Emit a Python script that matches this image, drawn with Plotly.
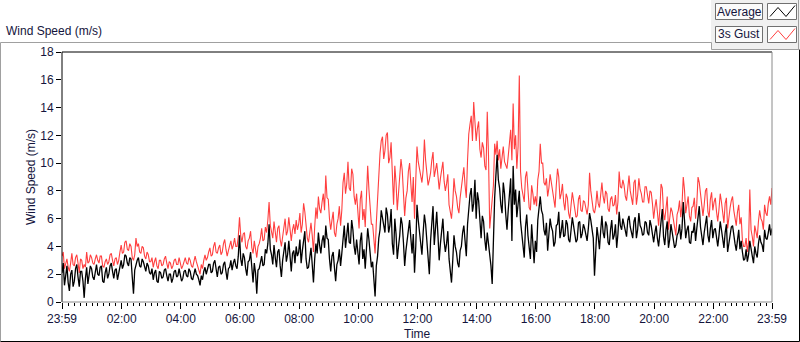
import plotly.graph_objects as go

# ---------------- data (2.5-minute samples, 23:59 -> 23:59), one row per hour ----------------
average = [
    2.1, 2.8, 1.2, 1.9, 2.6, 1.4, 0.8, 2.0, 2.3, 1.1, 1.5, 2.4, 2.7, 1.8, 1.1, 2.2, 2.2, 1.5, 0.3, 1.7, 2.5, 1.3, 1.9, 2.6,
    2.4, 1.8, 1.6, 2.2, 2.7, 2.0, 1.9, 2.5, 2.6, 1.5, 1.4, 2.1, 2.5, 1.7, 2.0, 2.6, 2.8, 2.2, 1.7, 2.3, 2.4, 1.6, 2.1, 2.7,
    3.0, 2.4, 2.7, 3.4, 3.3, 2.8, 2.6, 3.2, 3.1, 1.8, 0.6, 2.3, 2.8, 3.0, 3.2, 2.6, 2.5, 3.1, 2.9, 2.4, 2.2, 2.8, 2.6, 2.1,
    2.0, 2.4, 1.6, 2.1, 2.3, 1.5, 1.4, 2.2, 2.1, 1.7, 1.8, 2.3, 2.4, 1.9, 1.5, 2.0, 2.0, 1.4, 1.7, 2.2, 2.3, 1.8, 1.9, 2.4,
    2.0, 1.5, 1.7, 2.2, 2.3, 1.9, 1.8, 2.4, 2.2, 1.7, 1.6, 2.1, 2.4, 2.0, 1.9, 1.6, 1.2, 1.9, 1.6, 2.2, 2.5, 2.0, 2.3, 2.7,
    2.7, 2.1, 2.2, 2.8, 3.0, 2.4, 1.8, 2.5, 2.6, 2.0, 2.1, 2.7, 2.9, 2.2, 1.6, 2.4, 2.5, 3.0, 2.3, 2.8, 3.1, 2.6, 2.4, 3.3,
    4.8, 3.1, 2.6, 3.5, 3.2, 2.4, 1.9, 2.9, 3.0, 3.6, 2.2, 1.4, 2.8, 2.1, 0.6, 2.3, 2.4, 3.0, 3.3, 2.6, 2.7, 3.8, 3.5, 4.2,
    5.6, 3.8, 3.4, 2.7, 4.1, 3.2, 2.5, 3.6, 3.8, 2.6, 1.8, 3.0, 3.5, 4.3, 2.9, 3.4, 4.4, 3.1, 2.2, 3.5, 3.7, 2.8, 4.0, 3.3,
    3.6, 4.5, 2.8, 3.7, 4.3, 5.1, 3.1, 2.4, 2.5, 3.4, 3.9, 2.7, 1.4, 3.1, 4.2, 3.5, 5.0, 4.1, 3.5, 4.4, 4.8, 3.9, 5.5, 4.6,
    4.5, 3.1, 2.2, 3.3, 3.6, 2.5, 1.5, 2.7, 3.0, 3.8, 2.6, 3.5, 4.8, 5.5, 3.9, 4.6, 5.7, 4.3, 4.2, 5.9, 5.2, 4.0, 3.4, 4.5,
    3.8, 2.7, 4.4, 5.0, 3.1, 3.8, 2.4, 4.1, 5.3, 4.5, 3.6, 2.5, 2.9, 1.9, 0.4, 2.6, 3.3, 4.6, 5.2, 6.6, 6.1, 5.4, 5.0, 6.8,
    6.3, 5.0, 5.5, 6.7, 4.2, 3.4, 6.0, 4.9, 3.1, 4.0, 4.8, 6.1, 5.6, 4.3, 2.6, 3.7, 4.4, 5.3, 5.9, 4.6, 3.5, 4.9, 2.1, 4.0,
    7.0, 5.9, 5.2, 4.1, 3.4, 5.0, 6.3, 5.6, 4.6, 3.1, 2.0, 4.4, 5.8, 6.9, 4.1, 5.3, 6.5, 4.8, 3.0, 4.2, 5.0, 6.0, 4.4, 3.6,
    4.2, 5.1, 3.1, 2.2, 1.4, 3.0, 4.8, 4.0, 3.6, 2.8, 2.5, 3.7, 4.0, 5.0, 5.5, 4.4, 3.3, 5.6, 6.8, 7.7, 8.2, 6.5, 7.1, 8.8,
    6.0, 7.9, 7.3, 5.5, 4.6, 6.2, 5.8, 4.5, 3.7, 5.0, 4.2, 3.4, 2.6, 1.3, 4.8, 7.5, 9.1, 10.6, 8.8, 8.2, 7.0, 6.4, 8.6, 7.8,
    6.3, 5.2, 6.6, 7.6, 8.9, 4.4, 9.8, 7.0, 8.1, 6.1, 7.4, 8.0, 5.8, 5.0, 4.1, 3.2, 5.4, 6.3, 4.8, 4.0, 3.1, 5.6, 4.5, 2.8,
    4.4, 3.6, 5.9, 6.8, 7.6, 6.6, 6.3, 5.2, 4.8, 5.7, 3.7, 4.9, 6.0, 5.4, 5.1, 4.0, 4.3, 5.5, 5.6, 6.5, 4.6, 5.1, 5.9, 4.7,
    4.8, 5.9, 5.6, 4.5, 4.3, 5.2, 6.1, 5.5, 5.0, 4.3, 4.5, 5.7, 5.8, 4.6, 4.9, 5.6, 5.3, 4.7, 4.4, 5.3, 6.4, 5.9, 5.2, 4.6,
    1.9, 4.4, 5.4, 4.7, 3.8, 5.1, 6.2, 5.0, 4.6, 5.8, 5.5, 4.3, 4.1, 5.2, 5.9, 4.5, 4.8, 5.6, 3.9, 4.9, 6.5, 5.5, 5.2, 6.0,
    5.6, 5.1, 4.7, 5.9, 6.2, 5.4, 5.0, 4.6, 5.8, 6.1, 4.6, 5.2, 6.4, 5.5, 5.3, 4.8, 4.9, 5.8, 5.7, 5.0, 4.8, 5.9, 5.5, 4.9,
    4.3, 5.0, 5.5, 4.6, 4.0, 4.9, 6.0, 6.7, 4.7, 4.1, 5.2, 5.8, 3.9, 4.5, 5.6, 5.0, 4.4, 3.9, 4.1, 4.8, 5.0, 5.6, 4.5, 5.3,
    7.2, 6.1, 4.6, 5.2, 5.5, 4.3, 4.2, 5.1, 5.0, 5.7, 4.4, 5.3, 6.0, 6.9, 5.4, 4.6, 4.1, 5.0, 5.6, 6.2, 4.8, 4.3, 5.3, 5.9,
    4.6, 5.2, 5.3, 4.5, 4.0, 4.8, 5.8, 5.2, 4.4, 3.9, 5.0, 5.6, 3.6, 4.3, 4.9, 5.4, 5.5, 4.7, 4.2, 3.7, 4.7, 5.2, 3.8, 4.4,
    3.6, 3.0, 3.1, 3.8, 2.9, 3.4, 4.4, 3.7, 3.3, 2.8, 4.0, 3.5, 3.2, 4.2, 4.8, 4.3, 4.1, 3.6, 5.2, 4.6, 4.5, 5.0, 5.6, 4.8,
    5.3,
]
gust_3s = [
    3.3, 3.6, 2.4, 2.9, 3.1, 2.5, 2.2, 2.8, 3.5, 2.7, 2.6, 3.2, 3.4, 2.8, 2.1, 3.1, 3.0, 2.4, 2.7, 2.5, 3.6, 2.8, 2.9, 3.4,
    3.2, 2.8, 2.7, 3.1, 3.4, 3.0, 2.8, 3.3, 3.3, 2.6, 2.5, 2.9, 3.1, 2.7, 2.9, 3.4, 3.5, 3.0, 2.6, 3.1, 3.2, 2.7, 3.0, 3.6,
    4.1, 3.5, 3.6, 4.3, 4.4, 3.8, 3.7, 4.2, 4.0, 3.2, 3.0, 3.4, 4.6, 4.0, 4.2, 3.6, 3.5, 4.0, 3.9, 3.3, 3.1, 3.6, 3.4, 2.9,
    2.9, 3.2, 2.5, 2.9, 3.2, 2.6, 2.4, 3.0, 3.0, 2.6, 2.7, 3.1, 3.3, 2.8, 2.4, 2.9, 2.8, 2.4, 2.6, 3.0, 3.1, 2.7, 2.7, 3.2,
    2.8, 2.4, 2.6, 3.0, 3.2, 2.8, 2.7, 3.2, 3.0, 2.6, 2.5, 2.9, 3.3, 2.9, 2.6, 2.4, 2.0, 2.7, 2.4, 3.0, 3.4, 3.0, 3.2, 3.6,
    3.9, 3.3, 3.4, 4.0, 4.3, 3.6, 3.5, 3.9, 4.1, 3.4, 3.6, 4.2, 4.5, 3.8, 3.3, 3.7, 4.2, 4.4, 3.8, 4.1, 4.6, 4.0, 4.0, 4.7,
    6.1, 4.8, 4.3, 4.9, 5.0, 4.0, 3.8, 4.4, 4.6, 5.1, 3.9, 3.5, 4.4, 3.9, 3.2, 4.0, 4.2, 4.6, 5.3, 4.4, 4.5, 5.4, 5.0, 5.9,
    7.2, 5.5, 5.1, 4.6, 5.8, 5.0, 4.3, 5.3, 5.5, 4.5, 4.0, 4.7, 5.2, 6.0, 4.8, 5.1, 6.1, 5.0, 4.4, 5.2, 5.6, 4.9, 5.9, 5.2,
    5.6, 6.4, 5.0, 5.6, 7.1, 6.5, 5.4, 4.6, 4.3, 5.3, 5.7, 4.8, 3.6, 5.4, 6.8, 6.0, 7.6, 6.7, 6.4, 7.2, 7.8, 6.6, 9.1, 7.5,
    7.4, 6.0, 5.2, 5.9, 6.5, 5.0, 4.7, 5.6, 6.0, 6.9, 5.5, 6.6, 8.6, 9.3, 7.8, 8.5, 10.1, 8.2, 8.0, 9.6, 9.2, 7.6, 7.0, 7.8,
    6.2, 5.3, 7.4, 8.0, 5.9, 6.7, 5.4, 7.2, 9.8, 8.1, 7.0, 5.6, 5.6, 4.4, 3.5, 5.7, 7.8, 9.4, 10.7, 11.6, 11.9, 10.3, 10.9, 12.0,
    12.2, 10.0, 10.4, 11.5, 8.3, 7.0, 9.8, 8.6, 6.6, 7.8, 8.9, 10.3, 9.5, 8.0, 6.2, 7.5, 8.0, 9.4, 10.0, 8.5, 7.2, 9.0, 6.0, 8.8,
    11.2, 10.1, 9.6, 8.9, 8.6, 9.5, 11.7, 10.2, 9.2, 8.4, 8.8, 9.3, 10.2, 10.8, 9.0, 9.6, 10.0, 9.1, 8.1, 8.9, 9.4, 10.1, 8.7, 8.0,
    8.5, 9.2, 7.0, 6.4, 6.0, 7.1, 8.9, 8.0, 7.6, 6.8, 6.4, 7.5, 8.2, 9.0, 9.7, 8.4, 7.5, 10.2, 12.1, 12.8, 13.4, 11.6, 14.4, 13.0,
    11.6, 12.5, 13.0, 11.0, 10.4, 11.5, 11.1, 9.8, 9.5, 13.7, 10.6, 5.3, 6.2, 7.0, 8.4, 11.4, 10.6, 11.6, 10.2, 11.0, 9.6, 10.4, 11.2, 10.1,
    9.8, 9.6, 10.5, 11.8, 12.4, 10.2, 14.3, 11.0, 12.0, 9.6, 11.2, 16.3, 9.4, 8.2, 7.6, 7.2, 9.0, 9.4, 8.1, 6.8, 6.6, 8.4, 7.8, 7.0,
    7.6, 6.9, 8.8, 9.4, 11.4, 10.0, 10.0, 8.6, 8.4, 8.9, 7.6, 8.2, 9.2, 8.5, 8.0, 7.2, 6.8, 8.4, 9.6, 9.0, 7.4, 7.8, 8.5, 7.2,
    6.6, 7.8, 7.5, 6.4, 6.0, 7.0, 7.9, 7.3, 6.8, 6.1, 6.2, 7.4, 7.7, 6.6, 6.5, 7.3, 7.2, 6.6, 6.3, 7.0, 9.3, 8.0, 7.4, 6.6,
    6.4, 6.9, 8.0, 7.1, 6.8, 7.5, 8.6, 7.6, 7.1, 8.0, 7.8, 6.7, 6.5, 7.4, 7.6, 6.9, 7.0, 7.7, 6.3, 7.2, 9.4, 8.3, 8.2, 8.8,
    8.4, 7.6, 7.3, 8.2, 9.1, 8.0, 7.6, 7.0, 8.6, 8.8, 7.0, 7.7, 8.9, 8.1, 7.8, 7.2, 7.2, 8.3, 8.3, 7.5, 7.1, 8.0, 7.9, 7.1,
    6.0, 6.8, 7.4, 6.5, 5.5, 6.6, 8.5, 8.2, 6.4, 5.9, 7.0, 7.6, 5.2, 6.1, 6.8, 6.5, 5.8, 5.2, 4.8, 6.3, 6.6, 7.3, 6.1, 7.0,
    9.0, 8.1, 6.4, 7.0, 7.6, 6.2, 5.8, 6.8, 6.9, 7.5, 6.0, 7.1, 9.0, 8.6, 7.8, 6.6, 6.2, 7.0, 8.0, 8.2, 6.5, 6.1, 7.4, 7.9,
    6.6, 7.2, 7.5, 6.5, 5.8, 6.7, 7.8, 7.2, 6.2, 5.7, 7.1, 7.5, 5.3, 6.2, 6.8, 7.3, 7.6, 6.6, 6.0, 5.5, 6.5, 7.0, 5.6, 6.1,
    4.4, 4.0, 4.0, 4.6, 3.6, 4.3, 8.1, 5.2, 4.7, 4.0, 5.5, 5.0, 4.6, 5.8, 6.6, 6.0, 5.8, 5.2, 7.0, 6.4, 6.2, 7.1, 7.6, 7.0,
    8.2,
]
sample_step_min = 2.5
minutes_avg = [i * sample_step_min for i in range(len(average))]    # minutes after 23:59
minutes_gust = [i * sample_step_min for i in range(len(gust_3s))]

tick_minutes = [0, 121, 241, 361, 481, 601, 721, 841, 961, 1081, 1201, 1321, 1440]
tick_labels = ["23:59", "02:00", "04:00", "06:00", "08:00", "10:00", "12:00",
               "14:00", "16:00", "18:00", "20:00", "22:00", "23:59"]
y_ticks = [0, 2, 4, 6, 8, 10, 12, 14, 16, 18]

# ---------------- layout helpers (pixel -> paper) ----------------
L, R, T, B = 62, 772, 52, 302
def px(x):
    return (x - L) / (R - L)
def py(y):
    return (B - y) / (B - T)

FONT = "Liberation Sans"
TXT = "#14143c"

fig = go.Figure()
fig.add_trace(go.Scatter(x=minutes_gust, y=gust_3s, mode="lines", name="3s Gust",
                         line=dict(color="#ff3f3f", width=1.1)))
fig.add_trace(go.Scatter(x=minutes_avg, y=average, mode="lines", name="Average",
                         line=dict(color="#000000", width=1.3)))

fig.update_layout(
    width=800, height=342,
    margin=dict(l=L, r=800 - R, t=T, b=342 - B),
    paper_bgcolor="white", plot_bgcolor="white",
    showlegend=False,
    font=dict(family=FONT, size=12, color=TXT),
    xaxis=dict(range=[0, 1440], tickmode="array", tickvals=tick_minutes, ticktext=tick_labels,
               ticks="outside", ticklen=6, tickcolor="#000", tickwidth=1,
               minor=dict(tick0=1, dtick=12, ticks="outside", ticklen=3, tickcolor="#000"),
               showgrid=False, zeroline=False, showline=False,
               tickfont=dict(family=FONT, size=12, color=TXT)),
    yaxis=dict(range=[0, 18], tickmode="array", tickvals=y_ticks,
               ticks="outside", ticklen=5, tickcolor="#000", tickwidth=1,
               showgrid=False, zeroline=False, showline=False,
               tickfont=dict(family=FONT, size=12, color=TXT)),
)

shapes = []
def line(x0, y0, x1, y1, color, width=1):
    shapes.append(dict(type="line", xref="paper", yref="paper",
                       x0=px(x0), y0=py(y0), x1=px(x1), y1=py(y1),
                       line=dict(color=color, width=width), layer="above"))
def rect(x0, y0, x1, y1, fill, border):
    shapes.append(dict(type="rect", xref="paper", yref="paper",
                       x0=px(x0), y0=py(y0), x1=px(x1), y1=py(y1),
                       fillcolor=fill, line=dict(color=border, width=1), layer="below"))

# outer panel
line(0.5, 42.5, 711.5, 42.5, "#a0a0a0")
line(0.5, 42.5, 0.5, 341.5, "#a0a0a0")
line(0.5, 341.5, 799.5, 341.5, "#000000")
line(799.5, 49.5, 799.5, 341.5, "#000000")
# legend panel
rect(711.5, -1, 799.5, 49.5, "#f0f0f0", "#f0f0f0")
line(711.5, 42.5, 711.5, 49.5, "#a0a0a0")
line(711.5, 49.5, 799.5, 49.5, "#a0a0a0")
line(798.5, 0, 798.5, 49.5, "#a0a0a0")
rect(715.5, 3.5, 762.5, 19.5, "#fbfbfb", "#707070")
rect(767.5, 3.5, 796.5, 19.5, "#ffffff", "#707070")
rect(715.5, 26.5, 762.5, 42.5, "#fbfbfb", "#707070")
rect(767.5, 26.5, 796.5, 42.5, "#ffffff", "#707070")

# legend glyphs
def zig(color, dy):
    pts = [(770, 16.5 + dy), (778, 7.5 + dy), (786, 16.5 + dy), (795, 5.5 + dy)]
    d = "M " + " L ".join(f"{px(x)},{py(y)}" for x, y in pts)
    shapes.append(dict(type="path", xref="paper", yref="paper", path=d,
                       line=dict(color=color, width=1), layer="above"))
zig("#000000", 0)
zig("#ff3f3f", 23)

# plot frame
line(L, T, R, T, "#000000")
line(L, T, L, B, "#000000")
line(L, B, R, B, "#8a8a8a")
line(R, T, R, B, "#8a8a8a")

fig.update_layout(shapes=shapes)

ann = [
    dict(text="Wind Speed (m/s)", x=px(4), y=py(31), xanchor="left", yanchor="middle"),
    dict(text="Average", x=px(739), y=py(11.5), xanchor="center", yanchor="middle"),
    dict(text="3s Gust", x=px(739), y=py(34.5), xanchor="center", yanchor="middle"),
    dict(text="Time", x=px(417), y=py(334), xanchor="center", yanchor="middle"),
    dict(text="Wind Speed (m/s)", x=px(31), y=py(177), xanchor="center", yanchor="middle",
         textangle=-90),
]
for a in ann:
    a.update(xref="paper", yref="paper", showarrow=False,
             font=dict(family=FONT, size=12, color=TXT))
fig.update_layout(annotations=ann)

fig.write_html("out.html", config={"displayModeBar": False})

# remove the default 8px page margin so the figure sits at the window origin
with open("out.html", encoding="utf-8") as f:
    html = f.read()
html = html.replace("<head>", "<head><style>html,body{margin:0;padding:0;overflow:hidden;}</style>", 1)
with open("out.html", "w", encoding="utf-8") as f:
    f.write(html)
